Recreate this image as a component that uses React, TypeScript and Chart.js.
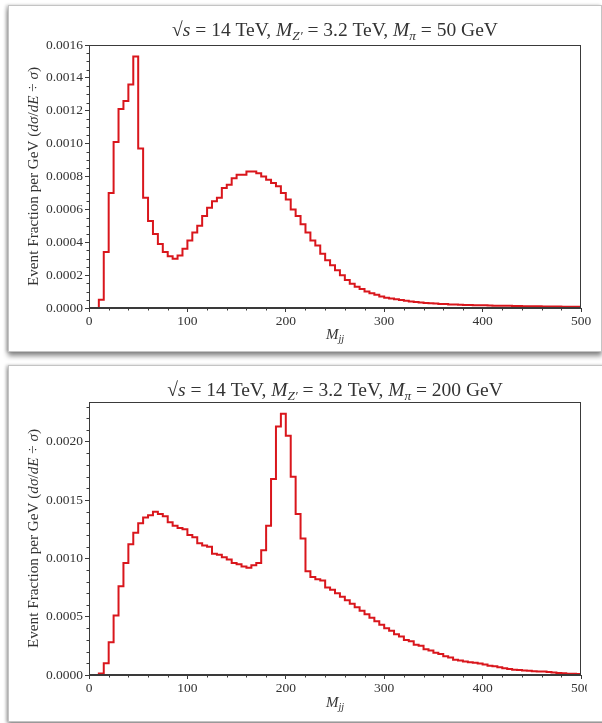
import React, { useEffect, useRef } from 'react';
import { Chart, registerables } from 'chart.js';

Chart.register(...registerables);

// ---------------- data ----------------
const BIN_WIDTH = 5;
const X_MIN = 0;
const X_MAX = 500;
const X_TICK_STEP = 100;
const X_MINOR_STEP = 20;

// M_pi = 50 GeV, 5 GeV bins from 0 to 500
const valuesPi50 = [
  0, 0, 0.00005, 0.00034, 0.0007, 0.00101, 0.00121, 0.00126, 0.00136, 0.00153,
  0.00097, 0.00067, 0.00053, 0.00045, 0.00039, 0.00034, 0.000315, 0.0003, 0.00032, 0.00036,
  0.00041, 0.00046, 0.0005, 0.00056, 0.00061, 0.00065, 0.00067, 0.00073, 0.00075, 0.00079,
  0.00081, 0.00081, 0.00083, 0.00083, 0.00082, 0.0008, 0.00078, 0.00076, 0.00074, 0.0007,
  0.00066, 0.0006, 0.00056, 0.00051, 0.00046, 0.00041, 0.00038, 0.00033, 0.00029, 0.00026,
  0.00023, 0.0002, 0.00017, 0.000148, 0.00013, 0.000115, 0.0001, 0.00009, 0.00008, 0.00007,
  0.000063, 0.000058, 0.000053, 0.000048, 0.000044, 0.00004, 0.000037, 0.000034, 0.000031, 0.000029,
  0.000027, 0.000025, 0.000024, 0.000022, 0.000021, 0.00002, 0.000019, 0.000018, 0.000017, 0.000016,
  0.000016, 0.000015, 0.000014, 0.000014, 0.000013, 0.000013, 0.000012, 0.000012, 0.000011, 0.000011,
  0.00001, 0.00001, 0.0000095, 0.000009, 0.000009, 0.0000085, 0.000008, 0.000008, 0.0000075, 0.000007,
];

// M_pi = 200 GeV, 5 GeV bins from 0 to 500
const valuesPi200 = [
  0, 0, 0.000012, 0.0001, 0.00028, 0.00051, 0.00076, 0.00096, 0.00112, 0.00122,
  0.0013, 0.00135, 0.00137, 0.0014, 0.00138, 0.00136, 0.00131, 0.00128, 0.00126, 0.00125,
  0.0012, 0.00118, 0.00113, 0.00111, 0.0011, 0.00104, 0.00103, 0.00101, 0.00099, 0.00096,
  0.00095, 0.00093, 0.00092, 0.00094, 0.00096, 0.00107, 0.00128, 0.00168, 0.00213, 0.00224,
  0.00205, 0.0017, 0.00138, 0.00117, 0.00089, 0.00084, 0.00082, 0.00081, 0.00075, 0.00073,
  0.0007, 0.00067, 0.00064, 0.00061, 0.00058, 0.00055, 0.00052, 0.00049, 0.00046, 0.00043,
  0.0004, 0.00038, 0.00035, 0.00033, 0.0003, 0.00029, 0.00026, 0.00025, 0.00022, 0.00021,
  0.00019, 0.00018, 0.00016, 0.00015, 0.00013, 0.000125, 0.000115, 0.00011, 0.000104, 0.000098,
  0.00009, 0.00008, 0.000075, 0.000066, 0.000058, 0.000052, 0.000046, 0.000043, 0.000038, 0.000036,
  0.000033, 0.00003, 0.000029, 0.000026, 0.000022, 0.000017, 0.000014, 0.000011, 0.00001, 0.000008,
];

const yMaxPi50 = 0.0016;
const yStepPi50 = 0.0002;
const yMinorPi50 = 0.00005;

const yMaxPi200 = 0.00234;
const yStepPi200 = 0.0005;
const yMinorPi200 = 0.0001;

type Seg = { t: string; it?: boolean; sub?: boolean };

const titlePi50: Seg[] = [
  { t: '\u221A' }, { t: 's', it: true }, { t: ' = 14 TeV, ' },
  { t: 'M', it: true }, { t: 'Z\u2032', it: true, sub: true }, { t: ' = 3.2 TeV, ' },
  { t: 'M', it: true }, { t: '\u03C0', it: true, sub: true }, { t: ' = 50 GeV' },
];
const titlePi200: Seg[] = [
  { t: '\u221A' }, { t: 's', it: true }, { t: ' = 14 TeV, ' },
  { t: 'M', it: true }, { t: 'Z\u2032', it: true, sub: true }, { t: ' = 3.2 TeV, ' },
  { t: 'M', it: true }, { t: '\u03C0', it: true, sub: true }, { t: ' = 200 GeV' },
];
const yAxisTitle: Seg[] = [
  { t: 'Event Fraction per GeV (' }, { t: 'd\u03C3', it: true }, { t: '/' },
  { t: 'dE', it: true }, { t: ' \u00F7 ' }, { t: '\u03C3', it: true }, { t: ')' },
];
const xAxisTitle: Seg[] = [{ t: 'M', it: true }, { t: 'jj', it: true, sub: true }];

// ---------------- styling ----------------
const FONT = '"Liberation Serif", "DejaVu Serif", serif';
const AXIS_COLOR = '#3a3a3a';
const TEXT_COLOR = '#333333';
const LINE_COLOR = '#d9161c';

function segFont(s: Seg, size: number) {
  const sz = s.sub ? size * 0.68 : size;
  return `${s.it ? 'italic ' : ''}${sz}px ${FONT}`;
}

function drawRich(ctx: CanvasRenderingContext2D, segs: Seg[], size: number, cx: number, cy: number, rotate: boolean) {
  ctx.save();
  ctx.translate(cx, cy);
  if (rotate) ctx.rotate(-Math.PI / 2);
  ctx.textBaseline = 'alphabetic';
  ctx.textAlign = 'left';
  ctx.fillStyle = TEXT_COLOR;
  let total = 0;
  const widths = segs.map((s) => {
    ctx.font = segFont(s, size);
    const w = ctx.measureText(s.t).width;
    total += w;
    return w;
  });
  let x = -total / 2;
  const base = size * 0.34;
  segs.forEach((s, i) => {
    ctx.font = segFont(s, size);
    ctx.fillText(s.t, x, base + (s.sub ? size * 0.22 : 0));
    x += widths[i];
  });
  ctx.restore();
}

type PanelProps = {
  values: number[];
  yMax: number;
  yStep: number;
  yMinor: number;
  title: Seg[];
  top: number;
  height: number;
  plotTop: number;
  plotBottom: number;
  titleY: number;
  xTitleY: number;
};

const PLOT_LEFT = 89;
const PLOT_RIGHT = 581;
const CANVAS_W = 602;

function Panel(p: PanelProps) {
  const ref = useRef<HTMLCanvasElement | null>(null);
  useEffect(() => {
    const canvas = ref.current;
    if (!canvas) return;
    const points = p.values.map((v, i) => ({ x: X_MIN + i * BIN_WIDTH, y: v }));
    points.push({ x: X_MIN + p.values.length * BIN_WIDTH, y: p.values[p.values.length - 1] });

    const decor = {
      id: 'decor',
      afterDraw(chart: any) {
        const ctx: CanvasRenderingContext2D = chart.ctx;
        const a = chart.chartArea;
        const xs = chart.scales.x;
        const ys = chart.scales.y;
        ctx.save();
        ctx.strokeStyle = AXIS_COLOR;
        ctx.lineWidth = 1;
        // frame
        ctx.strokeRect(Math.round(a.left) + 0.5, Math.round(a.top) + 0.5, Math.round(a.right - a.left) - 1, Math.round(a.bottom - a.top) - 1);
        // minor ticks x
        ctx.beginPath();
        for (let v = X_MIN + X_MINOR_STEP; v < X_MAX; v += X_MINOR_STEP) {
          if (v % X_TICK_STEP === 0) continue;
          const px = Math.round(xs.getPixelForValue(v)) + 0.5;
          ctx.moveTo(px, a.bottom);
          ctx.lineTo(px, a.bottom + 2.5);
        }
        // minor ticks y
        for (let k = 1; k * p.yMinor <= p.yMax + 1e-12; k++) {
          const v = k * p.yMinor;
          const r = v / p.yStep;
          if (Math.abs(r - Math.round(r)) < 1e-6) continue;
          const py = Math.round(ys.getPixelForValue(v)) + 0.5;
          ctx.moveTo(a.left, py);
          ctx.lineTo(a.left - 2.5, py);
        }
        ctx.stroke();
        ctx.restore();
        // texts
        drawRich(ctx, p.title, 19.5, (a.left + a.right) / 2, p.titleY, false);
        drawRich(ctx, yAxisTitle, 15.2, 33, (a.top + a.bottom) / 2, true);
        drawRich(ctx, xAxisTitle, 15, (a.left + a.right) / 2, p.xTitleY, false);
      },
    };

    const tickFont = { family: FONT, size: 13.5 };
    const chart = new Chart(canvas, {
      type: 'line',
      data: {
        datasets: [
          {
            data: points as any,
            stepped: true,
            borderColor: LINE_COLOR,
            borderWidth: 2,
            pointRadius: 0,
            fill: false,
          },
        ],
      },
      options: {
        animation: false,
        responsive: false,
        maintainAspectRatio: false,
        layout: { padding: { left: 0, right: CANVAS_W - PLOT_RIGHT, top: p.plotTop, bottom: 0 } },
        plugins: { legend: { display: false }, tooltip: { enabled: false }, title: { display: false } },
        scales: {
          x: {
            type: 'linear',
            min: X_MIN,
            max: X_MAX,
            border: { display: true, color: AXIS_COLOR, width: 1 },
            grid: { display: true, drawOnChartArea: false, drawTicks: true, tickLength: 4, color: AXIS_COLOR },
            ticks: { stepSize: X_TICK_STEP, font: tickFont, color: TEXT_COLOR, padding: 1, maxRotation: 0, includeBounds: false },
            afterFit: (s: any) => { s.height = p.height - p.plotBottom; },
          },
          y: {
            type: 'linear',
            min: 0,
            max: p.yMax,
            border: { display: true, color: AXIS_COLOR, width: 1 },
            grid: { display: true, drawOnChartArea: false, drawTicks: true, tickLength: 4, color: AXIS_COLOR },
            ticks: {
              stepSize: p.yStep,
              font: tickFont,
              color: TEXT_COLOR,
              padding: 2,
              includeBounds: false,
              callback: (v: any) => Number(v).toFixed(4),
            },
            afterFit: (s: any) => { s.width = PLOT_LEFT; },
          },
        },
      } as any,
      plugins: [decor],
    });
    return () => chart.destroy();
  }, []);
  return (
    <canvas
      ref={ref}
      width={CANVAS_W}
      height={p.height}
      style={{ position: 'absolute', left: 0, top: p.top, width: CANVAS_W, height: p.height }}
    />
  );
}

export default function App() {
  return (
    <div style={{ position: 'absolute', left: 0, top: 0, width: 602, height: 723, overflow: 'hidden', background: '#fff' }}>
      <div
        style={{
          position: 'absolute', left: 8, top: 5, width: 592, height: 345, background: '#fff',
          border: '1px solid #c4c4c4',
          boxShadow: '0 4px 5px rgba(0,0,0,0.45), -2px 0 3px rgba(0,0,0,0.2)',
        }}
      />
      <div
        style={{
          position: 'absolute', left: 8, top: 365, width: 610, height: 355, background: '#fff',
          border: '1px solid #c4c4c4',
          boxShadow: '0 3px 4px rgba(0,0,0,0.4), -2px 0 3px rgba(0,0,0,0.2)',
        }}
      />
      <Panel
        values={valuesPi50}
        yMax={yMaxPi50}
        yStep={yStepPi50}
        yMinor={yMinorPi50}
        title={titlePi50}
        top={0}
        height={360}
        plotTop={45}
        plotBottom={308}
        titleY={29}
        xTitleY={334}
      />
      <div style={{ position: 'absolute', left: 0, top: 360, width: 587, height: 363, overflow: 'hidden' }}>
        <Panel
          values={valuesPi200}
          yMax={yMaxPi200}
          yStep={yStepPi200}
          yMinor={yMinorPi200}
          title={titlePi200}
          top={0}
          height={360}
          plotTop={42}
          plotBottom={315}
          titleY={29}
          xTitleY={342}
        />
      </div>
    </div>
  );
}
